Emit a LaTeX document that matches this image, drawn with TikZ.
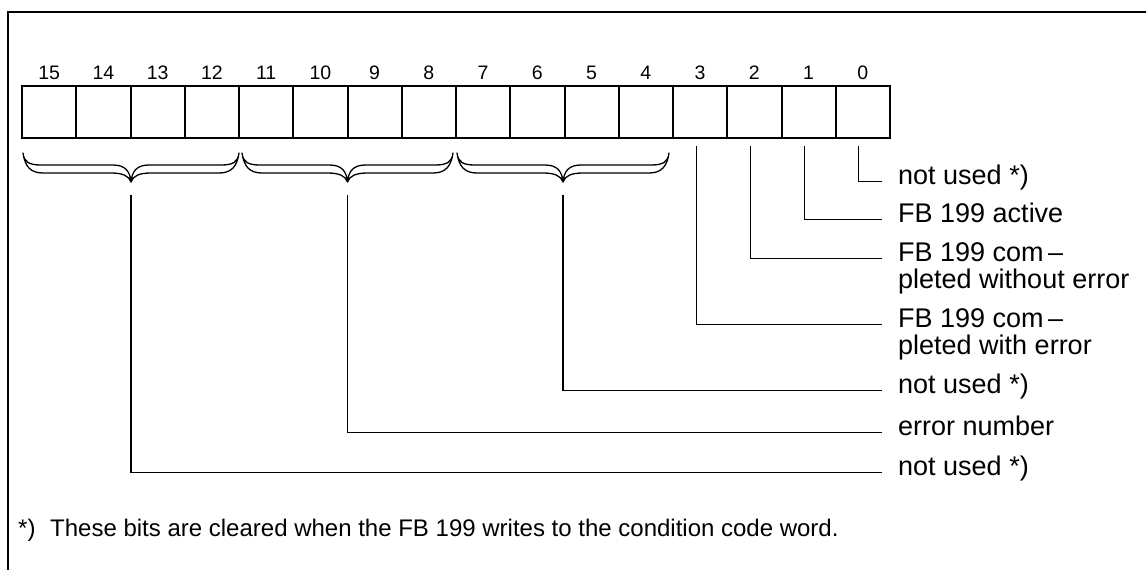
\documentclass[tikz,border=0pt]{standalone}
\usepackage{fontspec}
\setmainfont{Liberation Sans}
\tikzset{
  cell/.style={draw, line width=2pt, minimum width=54.25pt, minimum height=52pt, inner sep=0pt},
  bitnum/.style={node font=\fontsize{19.5}{20}\selectfont, anchor=base, inner sep=0pt},
  lbl/.style={node font=\fontsize{27}{27}\selectfont, inner sep=0pt},
  fn/.style={node font=\fontsize{24}{24}\selectfont, inner sep=0pt, anchor=base west},
  conn/.style={line width=1.1pt},
  brc/.style={line width=1.3pt, fill=white, line join=round},
  frame/.style={line width=1.5pt}
}
\newcommand\hollowbrace[2]{%
  \pgfmathsetmacro\bm{(#1+#2)/2}%
  \draw[brc] (#1,153) .. controls (#1+1,162) and (#1+6,165) .. (#1+18,165)
    -- (\bm-18,165) .. controls (\bm-6,165) and (\bm-1,171) .. (\bm,182)
    .. controls (\bm+1,171) and (\bm+6,165) .. (\bm+18,165)
    -- (#2-18,165) .. controls (#2-6,165) and (#2-1,162) .. (#2,153)
    .. controls (#2-2,167) and (#2-8,173) .. (#2-20,173)
    -- (\bm+20,173) .. controls (\bm+8,173) and (\bm+2,176) .. (\bm,182)
    .. controls (\bm-2,176) and (\bm-8,173) .. (\bm-20,173)
    -- (#1+20,173) .. controls (#1+8,173) and (#1+2,167) .. cycle;%
}
\begin{document}
\begin{tikzpicture}[x=1pt, y=-1pt]
\useasboundingbox (0,0) rectangle (1146,570);
% frame
\draw[frame] (1146,12) -- (8,12) -- (8,570);
% register cells and bit numbers
\foreach \i in {0,...,15} {
  \node[cell] (c\i) at ({22+(15-\i)*54.25+27.125},112) {};
  \node[bitnum] (n\i) at ({22+(15-\i)*54.25+27.125},79) {\i};
}
% braces
\hollowbrace{23}{239}
\hollowbrace{242}{453}
\hollowbrace{457}{669}
\coordinate (b1) at (131,195);
\coordinate (b2) at (347.5,195);
\coordinate (b3) at (563,195);
% labels
\node[lbl, anchor=mid west] (l0) at (898,177) {not used *)};
\node[lbl, anchor=mid west] (l1) at (898,215) {FB 199 active};
\node[lbl, anchor=mid west] (l2) at (898,254) {FB 199 com\,–};
\node[lbl, anchor=base west] (l2b) at ([yshift=-27pt]l2.base west) {pleted without error};
\node[lbl, anchor=mid west] (l3) at (898,320) {FB 199 com\,–};
\node[lbl, anchor=base west] (l3b) at ([yshift=-27pt]l3.base west) {pleted with error};
\node[lbl, anchor=mid west] (l4) at (898,386) {not used *)};
\node[lbl, anchor=mid west] (l5) at (898,428) {error number};
\node[lbl, anchor=mid west] (l6) at (898,468) {not used *)};
% connectors
\draw[conn] ([xshift=-4pt,yshift=-7pt]c0.south) |- ([xshift=-16pt]l0.mid west);
\draw[conn] ([xshift=-4pt,yshift=-7pt]c1.south) |- ([xshift=-16pt]l1.mid west);
\draw[conn] ([xshift=-4pt,yshift=-7pt]c2.south) |- ([xshift=-16pt]l2.mid west);
\draw[conn] ([xshift=-4pt,yshift=-7pt]c3.south) |- ([xshift=-16pt]l3.mid west);
\draw[conn] (b3) |- ([xshift=-16pt]l4.mid west);
\draw[conn] (b2) |- ([xshift=-16pt]l5.mid west);
\draw[conn] (b1) |- ([xshift=-16pt]l6.mid west);
% footnote
\node[fn] (fm) at (18,536) {*)};
\node[fn] (ft) at (50,536) {These bits are cleared when the FB 199 writes to the condition code word.};
\end{tikzpicture}
\end{document}
